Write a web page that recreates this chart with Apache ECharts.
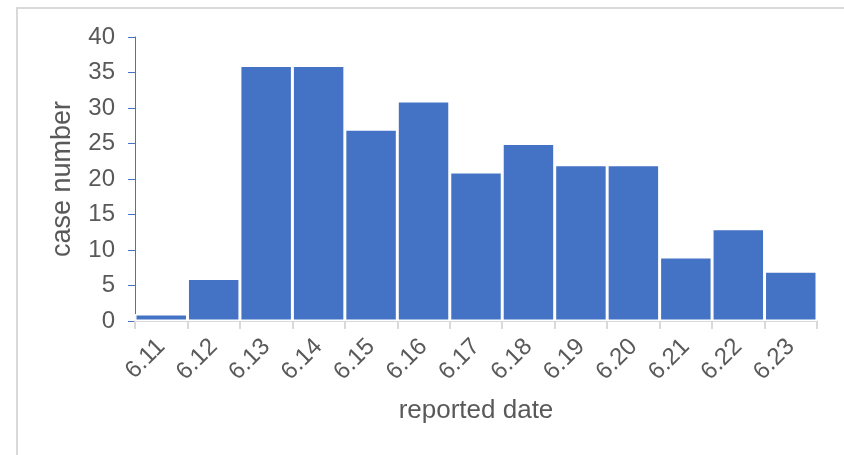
<!DOCTYPE html>
<html><head><meta charset="utf-8">
<script src="https://cdn.jsdelivr.net/npm/echarts@6/dist/echarts.min.js"></script>
<style>
html,body{margin:0;padding:0;background:#fff;}
#frame{position:absolute;left:16px;top:7px;width:840px;height:460px;border:2px solid #d9d9d9;box-sizing:border-box;}
#main{position:absolute;left:0;top:0;width:844px;height:455px;}
</style></head>
<body>
<div id="frame"></div>
<div id="main"></div>
<script>
const categories = ['6.11','6.12','6.13','6.14','6.15','6.16','6.17','6.18','6.19','6.20','6.21','6.22','6.23'];
const caseNumbers = [1,6,36,36,27,31,21,25,22,22,9,13,7];
const yTicks = {min:0, max:40, interval:5};
const font = 'Liberation Sans, Arial, sans-serif';
const chart = echarts.init(document.getElementById('main'), null, {renderer:'canvas'});
chart.setOption({
  backgroundColor:'transparent',
  animation:false,
  grid:{left:135, right:27, top:37, bottom:134, containLabel:false},
  xAxis:{
    type:'category', data:categories, boundaryGap:true,
    name:'reported date', nameLocation:'middle', nameGap:77,
    nameTextStyle:{fontFamily:font, fontSize:26, color:'#595959'},
    axisLine:{lineStyle:{color:'#d9d9d9', width:2}},
    axisTick:{show:true, length:8, lineStyle:{color:'#d9d9d9', width:2}},
    axisLabel:{rotate:45, margin:22, fontFamily:font, fontSize:24, color:'#595959', interval:0},
    splitLine:{show:false}
  },
  yAxis:{
    type:'value', min:yTicks.min, max:yTicks.max, interval:yTicks.interval,
    name:'case number', nameLocation:'middle', nameGap:59, nameRotate:90,
    nameTextStyle:{fontFamily:font, fontSize:27, color:'#595959'},
    axisLine:{show:true, lineStyle:{color:'#4472c4', width:1}},
    axisTick:{show:true, length:7, lineStyle:{color:'#4472c4'}},
    axisLabel:{margin:20, fontFamily:font, fontSize:24, color:'#595959'},
    splitLine:{show:false}
  },
  series:[{
    type:'bar', data:caseNumbers, barCategoryGap:'0%',
    itemStyle:{color:'#4472c4', borderColor:'#ffffff', borderWidth:1.5}
  }]
});
</script>
</body></html>
